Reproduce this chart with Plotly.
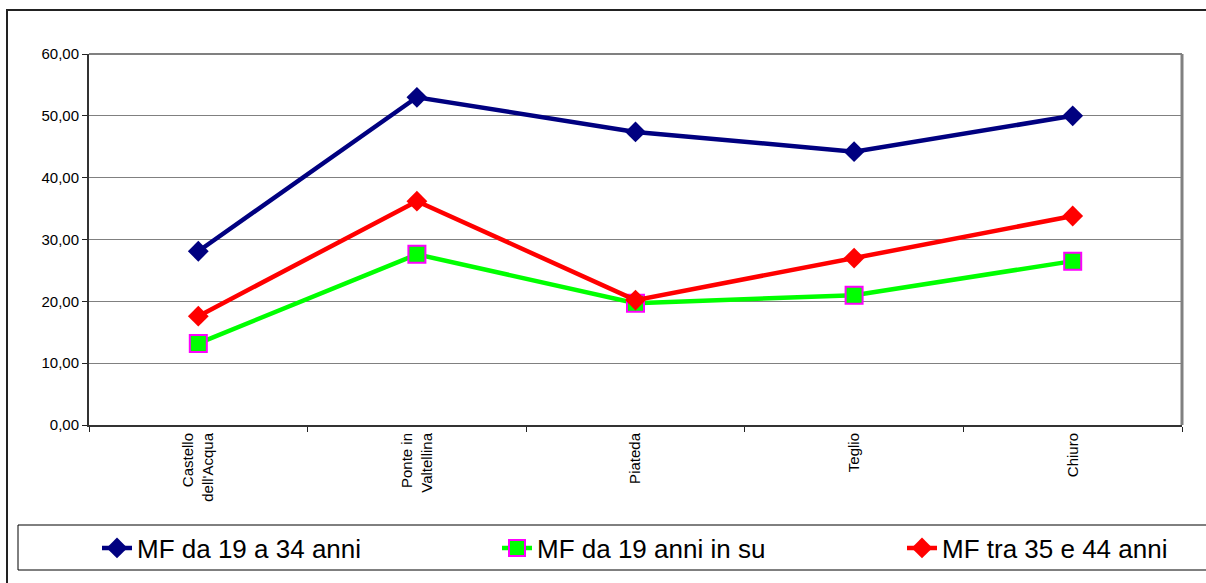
import plotly.graph_objects as go

categories = ["Castello<br>dell'Acqua", "Ponte in<br>Valtellina", "Piateda", "Teglio", "Chiuro"]
mf_19_34 = [28.1, 53.0, 47.4, 44.2, 50.0]
mf_19_su = [13.2, 27.6, 19.7, 21.0, 26.5]
mf_35_44 = [17.6, 36.2, 20.2, 27.0, 33.8]
series_names = ["MF da 19 a 34 anni", "MF da 19 anni in su", "MF tra 35 e 44 anni"]
y_ticks = [0, 10, 20, 30, 40, 50, 60]

FONT = "Arial, Liberation Sans, sans-serif"

fig = go.Figure()
fig.add_trace(go.Scatter(
    x=categories, y=mf_19_34, name=series_names[0], mode="lines+markers", legend="legend",
    line=dict(color="#000080", width=4.5),
    marker=dict(symbol="diamond", size=16, color="#000080", line=dict(width=0)),
))
fig.add_trace(go.Scatter(
    x=categories, y=mf_19_su, name=series_names[1], mode="lines+markers", legend="legend2",
    line=dict(color="#00FF00", width=4.5),
    marker=dict(symbol="square", size=17, color="#00FF00", line=dict(color="#FF00FF", width=2)),
))
fig.add_trace(go.Scatter(
    x=categories, y=mf_35_44, name=series_names[2], mode="lines+markers", legend="legend3",
    line=dict(color="#FF0000", width=4.5),
    marker=dict(symbol="diamond", size=16, color="#FF0000", line=dict(width=0)),
))

W, H = 1206, 583
L, R, T, B = 89, 1206 - 1182, 54, 583 - 425
pw, ph = W - L - R, H - T - B


def px(xp):
    return (xp - L) / pw


def py(yp):
    return (H - B - yp) / ph


shapes = [
    # outer chart frame
    dict(type="rect", xref="paper", yref="paper", x0=px(7), x1=px(1215), y0=py(600), y1=py(10),
         line=dict(color="#222222", width=2), layer="below"),
    # legend frame
    dict(type="rect", xref="paper", yref="paper", x0=px(18), x1=px(1215), y0=py(570), y1=py(525),
         line=dict(color="#000000", width=1), layer="below"),
    # darker gridline at 30
    dict(type="line", xref="paper", yref="y", x0=0, x1=1, y0=30, y1=30,
         line=dict(color="#000000", width=1), layer="below"),
    # top and right plot border
    dict(type="line", xref="paper", yref="paper", x0=0, x1=1, y0=1, y1=1,
         line=dict(color="#808080", width=2), layer="below"),
    dict(type="line", xref="paper", yref="paper", x0=1, x1=1, y0=0, y1=1,
         line=dict(color="#808080", width=3), layer="below"),
]


def legend_at(xpix):
    return dict(
        orientation="h", x=px(xpix), xanchor="left", y=py(548), yanchor="middle",
        font=dict(size=26, family=FONT, color="#000000"),
        bgcolor="rgba(0,0,0,0)", borderwidth=0, itemwidth=30,
    )


fig.update_layout(
    width=W, height=H, autosize=False,
    margin=dict(l=L, r=R, t=T, b=B, pad=0),
    paper_bgcolor="white", plot_bgcolor="white",
    font=dict(family=FONT, color="#000000"),
    separators=", ",
    shapes=shapes,
    showlegend=True,
    legend=legend_at(97),
    legend2=legend_at(497),
    legend3=legend_at(902),
    xaxis=dict(
        type="category", range=[-0.5, 4.5], tickson="boundaries",
        ticks="outside", ticklen=5, tickwidth=1, tickcolor="#222222",
        showline=True, linecolor="#333333", linewidth=2,
        showgrid=False, zeroline=False, tickangle=-90,
        tickfont=dict(size=15, family=FONT, color="#000000"),
    ),
    yaxis=dict(
        range=[0, 60], tickvals=y_ticks, tickformat=".2f",
        ticks="outside", ticklen=5, tickwidth=1, tickcolor="#222222",
        showline=True, linecolor="#333333", linewidth=2,
        showgrid=True, gridcolor="#808080", gridwidth=1, zeroline=False,
        tickfont=dict(size=15, family=FONT, color="#000000"),
    ),
)

fig.write_html(
    "out.html",
    config={"displayModeBar": False},
    post_script="document.body.style.margin='0';document.body.style.padding='0';",
)
